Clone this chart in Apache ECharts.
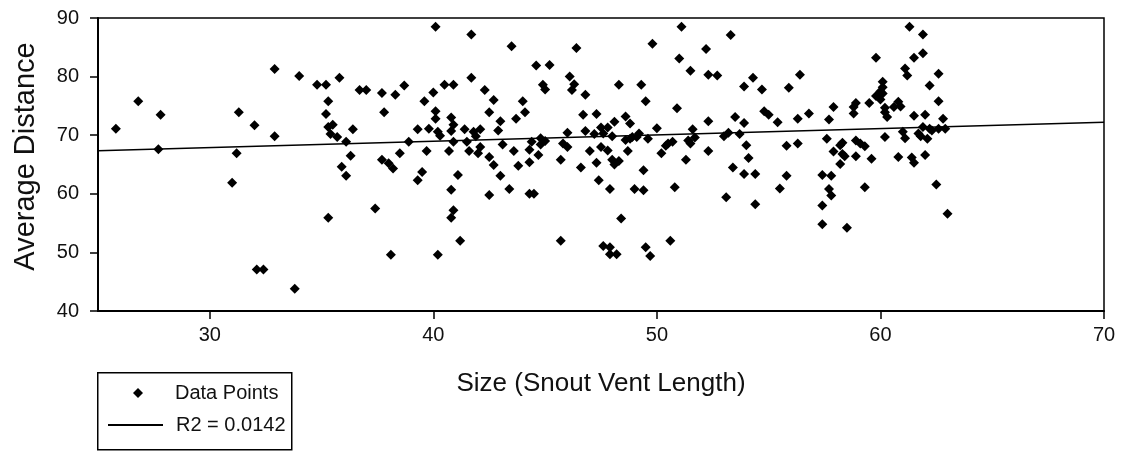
<!DOCTYPE html>
<html>
<head>
<meta charset="utf-8">
<script src="https://cdn.jsdelivr.net/npm/echarts@6/dist/echarts.min.js"></script>
<style>
  html, body { margin: 0; padding: 0; background: #fff; }
  #chart { width: 1125px; height: 454px; }
</style>
</head>
<body>
<div id="chart"></div>
<script>
// Snout-vent length (x) of each data point
const sizes = [
  25.8, 26.8, 27.8, 27.7, 32.9, 34.0, 31.3, 32.0, 32.9, 31.2, 31.0, 32.1, 32.4, 33.8,
  40.1, 41.7, 34.8, 35.2, 35.8, 36.7, 37.0, 37.7, 38.3, 38.7, 35.3, 35.2, 37.8, 35.3,
  35.5, 35.4, 35.7, 36.1, 36.4, 36.3, 35.9, 36.1, 35.3, 37.4, 38.1, 37.7, 38.0, 38.2,
  38.5, 38.9, 39.6, 40.0, 40.5, 40.9, 41.7, 42.3, 42.7, 42.5, 43.0, 42.9, 43.1, 40.1,
  40.1, 39.3, 39.8, 40.2, 40.3, 40.8, 40.9, 40.8, 40.9, 41.4, 41.8, 42.1, 41.9, 41.5,
  39.7, 40.7, 41.6, 42.1, 42.0, 42.5, 42.7, 43.0, 39.5, 39.3, 41.1, 40.8, 42.5, 40.9,
  40.8, 41.2, 40.2,
  43.5, 46.4, 49.8, 51.1, 52.2, 44.6, 45.2, 51.0, 51.5, 52.3, 46.1, 44.9, 45.0, 46.3,
  46.2, 46.8, 48.3, 49.3, 49.5, 50.9, 44.0, 44.1, 43.7, 46.7, 47.3, 48.6, 48.8, 48.1,
  47.5, 47.8, 46.8, 46.0, 47.2, 47.6, 48.0, 49.2, 50.0, 51.6, 52.3, 44.4, 44.8, 45.0,
  44.8, 44.3, 43.6, 44.3, 43.8, 44.7, 45.8, 46.0, 45.7, 46.6, 47.0, 47.3, 47.5, 47.8,
  48.0, 48.1, 48.3, 48.7, 48.6, 48.8, 48.9, 49.1, 49.6, 49.4, 50.2, 50.4, 50.5, 50.7,
  51.3, 51.4, 51.5, 51.7, 52.3, 43.4, 44.3, 44.5, 47.4, 47.9, 49.0, 49.4, 50.8, 48.4,
  45.7, 47.6, 47.9, 47.9, 48.2, 49.5, 49.7, 50.6,
  53.3, 61.3, 52.7, 59.8, 61.5, 61.1, 61.2, 53.9, 54.3, 54.7, 55.9, 56.4, 60.1, 60.1,
  60.0, 60.1, 59.8, 60.0, 59.5, 58.9, 58.8, 58.8, 57.9, 57.7, 60.2, 60.2, 60.3, 60.6,
  60.8, 60.9, 61.5, 54.8, 55.0, 55.4, 56.3, 56.8, 53.5, 53.9, 53.0, 53.2, 53.7, 54.0,
  54.1, 53.4, 53.9, 54.4, 53.1, 54.4, 55.8, 56.3, 55.8, 55.5, 57.6, 57.9, 58.2, 58.3,
  58.3, 58.4, 58.2, 58.9, 59.1, 59.3, 58.9, 59.6, 60.2, 60.8, 61.0, 61.1, 61.4, 61.5,
  57.4, 57.8, 57.7, 57.8, 57.4, 57.4, 58.5, 59.3,
  61.9, 61.9, 62.6, 62.2, 62.6, 62.0, 62.8, 61.9, 62.2, 62.3, 61.7, 61.8, 62.1, 62.6,
  62.9, 62.0, 62.5, 63.0
];

// Average distance (y) of each data point, same order as sizes
const distances = [
  71.1, 75.8, 73.5, 67.6, 81.3, 80.1, 73.9, 71.7, 69.8, 66.9, 61.9, 47.1, 47.1, 43.8,
  88.5, 87.2, 78.6, 78.6, 79.8, 77.7, 77.7, 77.2, 76.9, 78.5, 75.8, 73.6, 73.9, 71.4,
  71.8, 70.2, 69.7, 68.9, 71.0, 66.5, 64.6, 63.1, 55.9, 57.5, 49.6, 65.8, 65.2, 64.3,
  66.9, 68.9, 75.8, 77.3, 78.6, 78.6, 79.8, 77.7, 76.0, 73.9, 72.4, 70.8, 68.4, 74.1,
  72.8, 71.0, 71.1, 70.6, 69.9, 73.0, 71.8, 70.7, 68.9, 71.0, 70.6, 71.0, 69.8, 68.9,
  67.3, 67.3, 67.3, 68.0, 66.9, 66.3, 64.9, 63.1, 63.7, 62.3, 63.2, 60.7, 59.8, 57.2,
  55.9, 52.0, 49.6,
  85.2, 84.9, 85.6, 88.5, 84.7, 81.9, 82.0, 83.1, 81.0, 80.3, 80.0, 78.6, 77.8, 78.7,
  77.7, 76.9, 78.6, 78.6, 75.8, 74.6, 75.8, 73.9, 72.8, 73.5, 73.6, 73.2, 72.0, 72.3,
  71.3, 71.3, 70.7, 70.4, 70.2, 70.3, 69.8, 70.3, 71.2, 71.0, 72.4, 68.9, 69.5, 69.0,
  68.4, 67.5, 67.3, 65.4, 64.8, 66.6, 68.6, 68.0, 65.8, 64.5, 67.3, 65.3, 68.0, 67.4,
  65.8, 65.0, 65.6, 67.3, 69.2, 69.4, 69.7, 69.7, 69.4, 64.0, 66.9, 68.2, 68.6, 68.9,
  65.8, 69.1, 68.6, 69.6, 67.3, 60.8, 60.0, 60.0, 62.3, 60.8, 60.8, 60.6, 61.1, 55.8,
  52.0, 51.1, 50.9, 49.7, 49.7, 50.9, 49.4, 52.0,
  87.1, 88.5, 80.2, 83.2, 83.2, 81.4, 80.2, 78.3, 79.8, 77.8, 78.1, 80.3, 79.1, 78.2,
  77.5, 77.1, 76.7, 76.1, 75.5, 75.5, 74.8, 73.7, 74.8, 72.7, 74.7, 73.9, 73.1, 74.8,
  75.7, 74.9, 73.3, 74.1, 73.5, 72.2, 72.8, 73.7, 73.1, 72.1, 69.8, 70.4, 70.2, 68.3,
  66.1, 64.5, 63.4, 63.4, 59.4, 58.2, 68.2, 68.6, 63.1, 60.9, 69.4, 67.2, 68.3, 68.7,
  66.8, 66.4, 65.1, 69.1, 68.6, 68.1, 66.4, 66.0, 69.7, 66.3, 70.6, 69.5, 66.2, 65.3,
  63.2, 63.1, 60.8, 59.7, 58.0, 54.8, 54.2, 61.1,
  87.2, 84.0, 80.5, 78.5, 75.8, 73.5, 72.8, 71.4, 71.1, 70.8, 70.3, 69.8, 69.4, 71.1,
  71.1, 66.6, 61.6, 56.6
];

// Regression line end points (R2 = 0.0142)
const fitX = [25, 70];
const fitY = [67.35, 72.2];

// Axis tick values
const xTicks = [30, 40, 50, 60, 70];
const yTicks = [40, 50, 60, 70, 80, 90];

const seriesNames = ['Data Points', 'R2 = 0.0142'];
const FONT = "'Liberation Sans', Arial, sans-serif";

const chart = echarts.init(document.getElementById('chart'), null, { renderer: 'canvas' });

const legendText = { fontFamily: FONT, fontSize: 20, color: '#111' };

chart.setOption({
  animation: false,
  backgroundColor: '#fff',
  grid: {
    left: 98, right: 21, top: 18, bottom: 143,
    show: true, borderColor: '#000', borderWidth: 1.5, backgroundColor: 'transparent'
  },
  xAxis: {
    type: 'value',
    min: 25, max: 70,
    name: 'Size (Snout Vent Length)',
    nameLocation: 'middle',
    nameGap: 60,
    nameTextStyle: { fontFamily: FONT, fontSize: 26, color: '#111' },
    axisLine: { show: true, onZero: false, lineStyle: { color: '#000', width: 2 } },
    axisTick: { show: true, inside: false, length: 8, customValues: xTicks, lineStyle: { color: '#000', width: 1.5 } },
    axisLabel: { customValues: xTicks, margin: 14, fontFamily: FONT, fontSize: 20, color: '#111' },
    splitLine: { show: false }
  },
  yAxis: {
    type: 'value',
    min: 40, max: 90, interval: 10,
    name: 'Average Distance',
    nameLocation: 'middle',
    nameGap: 58,
    nameTextStyle: { fontFamily: FONT, fontSize: 29, color: '#111', padding: [0, 0, 0, 16] },
    axisLine: { show: true, onZero: false, lineStyle: { color: '#000', width: 2 } },
    axisTick: { show: true, inside: false, length: 8, customValues: yTicks, lineStyle: { color: '#000', width: 1.5 } },
    axisLabel: { customValues: yTicks, margin: 19, fontFamily: FONT, fontSize: 20, color: '#111' },
    splitLine: { show: false }
  },
  graphic: [{
    type: 'rect',
    left: 97, top: 372,
    shape: { width: 194, height: 77 },
    style: { fill: '#fff', stroke: '#000', lineWidth: 1.5 },
    z: 0
  }],
  legend: [
    {
      data: [seriesNames[0]],
      left: 133, top: 383,
      padding: 0,
      itemWidth: 10, itemHeight: 10,
      textStyle: Object.assign({ padding: [0, 0, 0, 27] }, legendText),
      z: 5
    },
    {
      data: [seriesNames[1]],
      left: 107, top: 415,
      padding: 0,
      itemWidth: 55, itemHeight: 10,
      itemStyle: { color: 'transparent', borderWidth: 0 },
      textStyle: Object.assign({ padding: [0, 0, 0, 8] }, legendText),
      z: 5
    }
  ],
  series: [
    {
      name: seriesNames[0],
      type: 'scatter',
      symbol: 'diamond',
      symbolSize: 10,
      itemStyle: { color: '#000', opacity: 1 },
      data: sizes.map((x, i) => [x, distances[i]]),
      z: 3
    },
    {
      name: seriesNames[1],
      type: 'line',
      symbol: 'none',
      lineStyle: { color: '#000', width: 1.5 },
      itemStyle: { color: '#000' },
      data: fitX.map((x, i) => [x, fitY[i]]),
      z: 2
    }
  ]
});
</script>
</body>
</html>
